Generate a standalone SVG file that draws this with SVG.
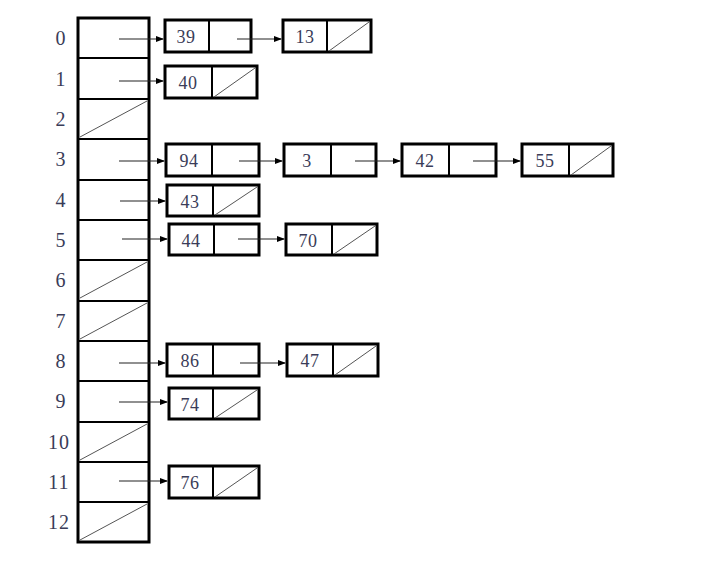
<svg xmlns="http://www.w3.org/2000/svg" width="712" height="564" viewBox="0 0 712 564">
<style>
.lbl{font-family:"Liberation Serif","DejaVu Serif",serif;font-size:20px;fill:#3a3c58;text-anchor:middle;letter-spacing:1px}
.val{font-family:"Liberation Serif","DejaVu Serif",serif;font-size:18px;fill:#3a3c58;text-anchor:middle;letter-spacing:0.5px}
.box{fill:#fff;stroke:#000;stroke-width:3}
.div{stroke:#000;stroke-width:2}
.nil{stroke:#555;stroke-width:1;fill:none}
.arr{stroke:#222;stroke-width:1.2;fill:none;marker-end:url(#ah)}
</style>
<defs>
<marker id="ah" markerWidth="8" markerHeight="6" refX="7" refY="3" orient="auto" markerUnits="userSpaceOnUse">
<path d="M0,0 L8,3 L0,6 Z" fill="#000"/>
</marker>
</defs>
<rect width="712" height="564" fill="#fff"/>
<g id="table">
<rect x="78" y="18" width="71" height="524" fill="#fff" stroke="#000" stroke-width="3"/>
<g class="div">
<line x1="78" y1="58" x2="149" y2="58"/>
<line x1="78" y1="99" x2="149" y2="99"/>
<line x1="78" y1="139" x2="149" y2="139"/>
<line x1="78" y1="180" x2="149" y2="180"/>
<line x1="78" y1="220" x2="149" y2="220"/>
<line x1="78" y1="260" x2="149" y2="260"/>
<line x1="78" y1="301" x2="149" y2="301"/>
<line x1="78" y1="341" x2="149" y2="341"/>
<line x1="78" y1="381" x2="149" y2="381"/>
<line x1="78" y1="422" x2="149" y2="422"/>
<line x1="78" y1="462" x2="149" y2="462"/>
<line x1="78" y1="502" x2="149" y2="502"/>
</g>
<g class="nil">
<line x1="80" y1="137" x2="147" y2="101"/>
<line x1="80" y1="298" x2="147" y2="262"/>
<line x1="80" y1="339" x2="147" y2="303"/>
<line x1="80" y1="460" x2="147" y2="424"/>
<line x1="80" y1="540" x2="147" y2="504"/>
</g>
<g class="lbl">
<text x="61" y="45">0</text>
<text x="61" y="86">1</text>
<text x="61" y="126">2</text>
<text x="61" y="166">3</text>
<text x="61" y="207">4</text>
<text x="61" y="247">5</text>
<text x="61" y="287">6</text>
<text x="61" y="328">7</text>
<text x="61" y="368">8</text>
<text x="61" y="408">9</text>
<text x="59" y="449">10</text>
<text x="59" y="489">11</text>
<text x="59" y="529">12</text>
</g>
</g>
<g id="n39"><rect class="box" x="165" y="20" width="86" height="32"/><line class="div" x1="209" y1="20" x2="209" y2="52"/><text class="val" x="186" y="43">39</text></g>
<g id="n13"><rect class="box" x="283" y="20" width="88" height="32"/><line class="div" x1="327" y1="20" x2="327" y2="52"/><text class="val" x="305" y="43">13</text><line class="nil" x1="329" y1="51" x2="369" y2="22"/></g>
<g id="n40"><rect class="box" x="165" y="66" width="92" height="32"/><line class="div" x1="212" y1="66" x2="212" y2="98"/><text class="val" x="188" y="89">40</text><line class="nil" x1="214" y1="97" x2="255" y2="68"/></g>
<g id="n94"><rect class="box" x="166" y="144" width="93" height="32"/><line class="div" x1="212" y1="144" x2="212" y2="176"/><text class="val" x="189" y="167">94</text></g>
<g id="n3"><rect class="box" x="284" y="144" width="92" height="32"/><line class="div" x1="331" y1="144" x2="331" y2="176"/><text class="val" x="307" y="167">3</text></g>
<g id="n42"><rect class="box" x="402" y="144" width="94" height="32"/><line class="div" x1="449" y1="144" x2="449" y2="176"/><text class="val" x="425" y="167">42</text></g>
<g id="n55"><rect class="box" x="522" y="144" width="91" height="32"/><line class="div" x1="569" y1="144" x2="569" y2="176"/><text class="val" x="545" y="167">55</text><line class="nil" x1="571" y1="175" x2="611" y2="146"/></g>
<g id="n43"><rect class="box" x="167" y="185" width="92" height="31"/><line class="div" x1="213" y1="185" x2="213" y2="216"/><text class="val" x="190" y="208">43</text><line class="nil" x1="215" y1="215" x2="257" y2="187"/></g>
<g id="n44"><rect class="box" x="169" y="224" width="90" height="31"/><line class="div" x1="214" y1="224" x2="214" y2="255"/><text class="val" x="191" y="247">44</text></g>
<g id="n70"><rect class="box" x="286" y="224" width="91" height="31"/><line class="div" x1="332" y1="224" x2="332" y2="255"/><text class="val" x="308" y="247">70</text><line class="nil" x1="334" y1="254" x2="375" y2="226"/></g>
<g id="n86"><rect class="box" x="167" y="344" width="92" height="32"/><line class="div" x1="213" y1="344" x2="213" y2="376"/><text class="val" x="190" y="367">86</text></g>
<g id="n47"><rect class="box" x="287" y="344" width="91" height="32"/><line class="div" x1="333" y1="344" x2="333" y2="376"/><text class="val" x="310" y="367">47</text><line class="nil" x1="335" y1="375" x2="376" y2="346"/></g>
<g id="n74"><rect class="box" x="169" y="388" width="90" height="31"/><line class="div" x1="213" y1="388" x2="213" y2="419"/><text class="val" x="190" y="411">74</text><line class="nil" x1="215" y1="418" x2="257" y2="390"/></g>
<g id="n76"><rect class="box" x="169" y="466" width="90" height="32"/><line class="div" x1="213" y1="466" x2="213" y2="498"/><text class="val" x="190" y="489">76</text><line class="nil" x1="215" y1="497" x2="257" y2="468"/></g>
<g id="connectors">
<line class="arr" x1="119" y1="39" x2="163" y2="39"/>
<line class="arr" x1="237" y1="39" x2="281" y2="39"/>
<line class="arr" x1="119" y1="81" x2="163" y2="81"/>
<line class="arr" x1="119" y1="161" x2="164" y2="161"/>
<line class="arr" x1="239" y1="161" x2="282" y2="161"/>
<line class="arr" x1="355" y1="161" x2="400" y2="161"/>
<line class="arr" x1="473" y1="161" x2="520" y2="161"/>
<line class="arr" x1="120" y1="201" x2="165" y2="201"/>
<line class="arr" x1="122" y1="239" x2="167" y2="239"/>
<line class="arr" x1="238" y1="239" x2="284" y2="239"/>
<line class="arr" x1="119" y1="363" x2="165" y2="363"/>
<line class="arr" x1="240" y1="363" x2="285" y2="363"/>
<line class="arr" x1="119" y1="402" x2="167" y2="402"/>
<line class="arr" x1="119" y1="481" x2="167" y2="481"/>
</g>
</svg>
